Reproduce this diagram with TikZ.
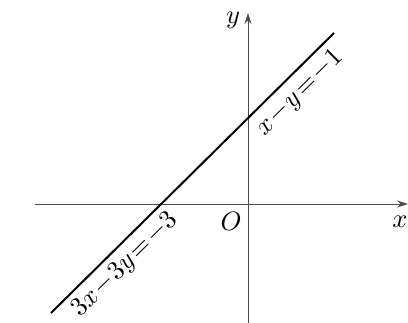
\documentclass[tikz,border=0pt]{standalone}
\usepackage{graphicx}
\usetikzlibrary{arrows.meta}
\newcommand{\bigtxt}[1]{\scalebox{2.65}{#1}}
\newcommand{\tighteq}[1]{\scalebox{2.65}{$\medmuskip=1mu\thickmuskip=1.5mu #1$}}
\begin{document}
\begin{tikzpicture}[x=1pt,y=-1pt,
  axisline/.style={draw=black!70, line width=0.9pt, -{Stealth[length=11pt,width=7pt]}},
  graphline/.style={draw=black, line width=2pt},
  lbl/.style={inner sep=0pt},
  eqlbl/.style={lbl, rotate=44.7}]
\useasboundingbox (0,0) rectangle (408,323);
% axes
\coordinate (xl) at (35,204);
\coordinate (xr) at (408,204);
\coordinate (yb) at (248,323);
\coordinate (yt) at (248,13);
\draw[axisline] (xl) -- (xr);
\draw[axisline] (yb) -- (yt);
% graph line
\coordinate (A) at (51,313);
\coordinate (B) at (334,33);
\draw[graphline] (A) -- (B);
% labels
\node[lbl] (xlab) at (400,222) {\bigtxt{$x$}};
\node[lbl] (ylab) at (233,20) {\bigtxt{$y$}};
\node[lbl] (olab) at (231,221) {\bigtxt{$O$}};
\node[eqlbl] (eq1) at (300,93) {\tighteq{x-y=-1}};
\node[eqlbl] (eq2) at (125,265) {\tighteq{3x-3y=-3}};
\end{tikzpicture}
\end{document}
